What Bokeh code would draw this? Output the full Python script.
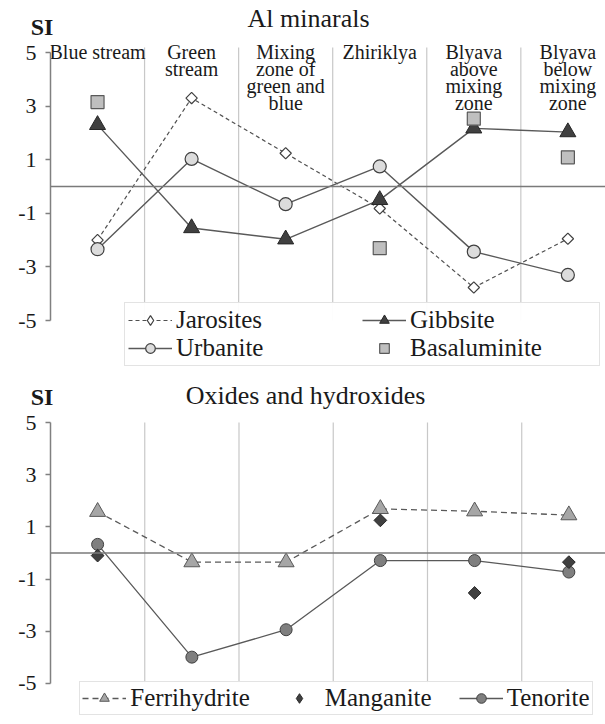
import numpy as np
from bokeh.plotting import figure
from bokeh.models import (FixedTicker, Span, Legend, LegendItem, Label, Range1d)
from bokeh.layouts import column
from bokeh.embed import file_html
from bokeh.resources import INLINE

nan = np.nan

# ---------------- data ----------------
categories = ["Blue stream", "Green\nstream", "Mixing\nzone of\ngreen and\nblue",
              "Zhiriklya", "Blyava\nabove\nmixing\nzone", "Blyava\nbelow\nmixing\nzone"]
x_idx = list(range(len(categories)))

# Al minerals
jarosites = [-2.0, 3.3, 1.24, -0.82, -3.77, -1.95]
urbanite = [-2.34, 1.03, -0.66, 0.75, -2.43, -3.3]
gibbsite = [2.3, -1.55, -1.97, -0.5, 2.17, 2.03]
basaluminite = [3.15, nan, nan, -2.3, 2.53, 1.09]

# Oxides and hydroxides
ferrihydrite = [1.58, -0.35, -0.35, 1.69, 1.6, 1.45]
manganite = [-0.1, nan, nan, 1.25, -1.53, -0.35]
tenorite = [0.33, -3.99, -2.94, -0.29, -0.29, -0.73]

y_ticks = [-5, -3, -1, 1, 3, 5]
y_tick_labels = {t: str(t) for t in y_ticks}

titles = ["Al minarals", "Oxides and hydroxides"]
y_label = "SI"

FONT = "Liberation Serif"
TXT = "#1a1a1a"


def title_fig(height, title, title_x, title_y, si_x, si_y):
    t = figure(width=605, height=height, x_axis_location=None, y_axis_location=None,
               output_backend="svg", toolbar_location=None, min_border=0,
               min_border_left=0, min_border_right=0, min_border_top=0, min_border_bottom=0,
               x_range=Range1d(0, 1), y_range=Range1d(0, 1))
    if "frame_align" in t.properties():
        t.frame_align = False
    t.outline_line_color = None
    t.grid.visible = False
    t.add_layout(Label(x=title_x, y=title_y, x_units="screen", y_units="screen", text=title,
                       text_align="center", text_baseline="middle", text_font=FONT,
                       text_font_size="26px", text_color=TXT))
    t.add_layout(Label(x=si_x, y=si_y, x_units="screen", y_units="screen", text=y_label,
                       text_align="center", text_baseline="middle", text_font=FONT,
                       text_font_size="24px", text_font_style="bold", text_color=TXT))
    return t


def make_fig(frame_w, frame_h, x_end, y_start, y_end, border_left, sep_top):
    p = figure(frame_width=frame_w, frame_height=frame_h,
               x_range=Range1d(-0.5, x_end), y_range=Range1d(y_start, y_end),
               x_axis_location=None, output_backend="svg", toolbar_location=None,
               min_border_left=border_left, min_border_right=0,
               min_border_top=0, min_border_bottom=0)
    p.outline_line_color = None
    p.grid.visible = False
    ax = p.yaxis[0]
    ax.ticker = FixedTicker(ticks=y_ticks)
    ax.major_label_overrides = y_tick_labels
    ax.bounds = (-5, 5)
    ax.axis_line_color = "#808080"
    ax.axis_line_width = 1.5
    ax.major_tick_line_color = "#808080"
    ax.major_tick_line_width = 1.5
    ax.major_tick_out = 5
    ax.major_tick_in = 0
    ax.minor_tick_line_color = None
    ax.major_label_text_font = FONT
    ax.major_label_text_font_size = "22px"
    ax.major_label_text_color = TXT
    ax.major_label_standoff = 9
    sep_x = [i + 0.5 for i in x_idx[:-1]]
    p.segment(x0=sep_x, y0=-5, x1=sep_x, y1=sep_top, line_color="#c8c8c8", line_width=1.2)
    p.add_layout(Span(location=0, dimension="width", line_color="#7a7a7a", line_width=1.6))
    return p


def legend_style():
    return dict(margin=0, label_standoff=4, glyph_width=44,
                label_text_font=FONT, label_text_font_size="25px", label_text_color=TXT,
                label_text_line_height=1.0,
                border_line_color="#c8c8c8", border_line_width=1.5,
                background_fill_color="white")


# ---------------- top chart ----------------
t1 = title_fig(40, titles[0], 308, 22, 41.5, 14)

p1 = make_fig(555, 328, 5.4, -6.791, 5.448, 50, 5.19)
p1.text(x=x_idx, y=5.44, text=categories, text_align="center", text_baseline="top",
        text_font=FONT, text_font_size="20px", text_line_height=0.78, text_color=TXT)

jl = p1.line(x_idx, jarosites, line_color="#505050", line_width=1.2, line_dash="4 3")
js = p1.scatter(x_idx, jarosites, marker="square", angle=np.pi / 4, size=8,
                fill_color="white", line_color="#404040", line_width=1.2)
# legend key only (NaN point, not drawn in the plot area)
js_key = p1.scatter(x=[nan], y=[nan], marker="diamond", size=12,
                    fill_color="white", line_color="#404040", line_width=1.2)
ul = p1.line(x_idx, urbanite, line_color="#595959", line_width=1.4)
us = p1.scatter(x_idx, urbanite, marker="circle", size=13,
                fill_color="#dcdcdc", line_color="#404040", line_width=1.2)
gl = p1.line(x_idx, gibbsite, line_color="#595959", line_width=1.4)
gs = p1.scatter(x_idx, gibbsite, marker="triangle", size=16,
                fill_color="#404040", line_color="#262626", line_width=1)
bs = p1.scatter(x_idx, basaluminite, marker="square", size=13,
                fill_color="#bfbfbf", line_color="#595959", line_width=1.2)

leg1 = Legend(items=[LegendItem(label="Jarosites", renderers=[jl, js_key]),
                     LegendItem(label="Urbanite", renderers=[ul, us]),
                     LegendItem(label="Gibbsite", renderers=[gl, gs]),
                     LegendItem(label="Basaluminite", renderers=[bs])],
              ncols=2, location=(74, 2), padding=3, spacing=0,
              glyph_height=24, label_height=24, label_width=186, **legend_style())
p1.add_layout(leg1, "center")

# ---------------- bottom chart ----------------
t2 = title_fig(41, titles[1], 305, 14, 41.5, 13)

p2 = make_fig(557, 309, 5.41, -6.341, 5.498, 48, 5.0)

fl = p2.line(x_idx, ferrihydrite, line_color="#595959", line_width=1.3, line_dash="6 4")
fs = p2.scatter(x_idx, ferrihydrite, marker="triangle", size=16,
                fill_color="#a6a6a6", line_color="#595959", line_width=1)
tl = p2.line(x_idx, tenorite, line_color="#595959", line_width=1.3)
ts = p2.scatter(x_idx, tenorite, marker="circle", size=12,
                fill_color="#7f7f7f", line_color="#404040", line_width=1)
ms = p2.scatter(x_idx, manganite, marker="square", angle=np.pi / 4, size=9,
                fill_color="#404040", line_color="#262626", line_width=1)
ms_key = p2.scatter(x=[nan], y=[nan], marker="diamond", size=12,
                    fill_color="#404040", line_color="#262626", line_width=1)

leg2 = Legend(items=[LegendItem(label="Ferrihydrite", renderers=[fl, fs]),
                     LegendItem(label="Manganite", renderers=[ms_key]),
                     LegendItem(label="Tenorite", renderers=[tl, ts])],
              orientation="horizontal", location=(40, 3), padding=2, spacing=27,
              glyph_height=24, label_height=24, **legend_style())
p2.add_layout(leg2, "center")

layout = column(t1, p1, t2, p2, spacing=0)
open("out.html", "w").write(file_html(layout, INLINE))
